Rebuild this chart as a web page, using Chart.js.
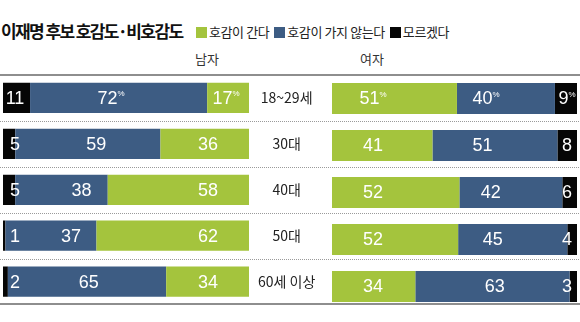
<!DOCTYPE html>
<html>
<head>
<meta charset="utf-8">
<script src="https://cdn.jsdelivr.net/npm/chart.js@4/dist/chart.umd.min.js"></script>
<style>
  html,body{margin:0;padding:0;background:#fff;}
  #wrap{position:relative;width:580px;height:322px;overflow:hidden;font-family:"Noto Sans CJK KR","Noto Sans",sans-serif;}
  #title{position:absolute;left:1px;top:18px;font-size:17px;font-weight:bold;color:#111;letter-spacing:-1.6px;white-space:nowrap;line-height:26px;}
  #legend{position:absolute;left:196px;top:22px;font-size:13px;color:#222;white-space:nowrap;line-height:20px;display:flex;align-items:center;letter-spacing:-0.4px;}
  #legend .sw{display:inline-block;width:11px;height:11px;margin-right:2px;}
  #legend .it{display:flex;align-items:center;margin-right:5px;}
  .panel{position:absolute;top:50px;font-size:13px;color:#333;line-height:18px;transform:translateX(-50%);white-space:nowrap;}
  canvas{position:absolute;top:0;left:0;}
</style>
</head>
<body>
<div id="wrap">
  <div id="title">이재명 후보 호감도·비호감도</div>
  <div id="legend"></div>
  <div class="panel" id="pm" style="left:207px">남자</div>
  <div class="panel" id="pf" style="left:372px">여자</div>
  <canvas id="left" width="580" height="322" style="width:580px;height:322px"></canvas>
  <canvas id="right" width="580" height="322" style="width:580px;height:322px"></canvas>
</div>
<script>
// ---- data ----
const categories = ['18~29세', '30대', '40대', '50대', '60세 이상'];
const seriesNames = ['호감이 간다', '호감이 가지 않는다', '모르겠다'];
const maleLike = [17, 36, 58, 62, 34];
const maleDislike = [72, 59, 38, 37, 65];
const maleUnknown = [11, 5, 5, 1, 2];
const femaleLike = [51, 41, 52, 52, 34];
const femaleDislike = [40, 51, 42, 45, 63];
const femaleUnknown = [9, 8, 6, 4, 3];

const seriesColors = ['#a4c43d', '#3d5c83', '#060606'];

// legend (HTML text)
const lg = document.getElementById('legend');
seriesNames.forEach((n, i) => {
  const it = document.createElement('span');
  it.className = 'it';
  it.innerHTML = '<span class="sw" style="background:' + seriesColors[i] + '"></span>' + n;
  lg.appendChild(it);
});

function shares(arrs) {
  const totals = categories.map((_, i) => arrs.reduce((s, a) => s + a[i], 0));
  return arrs.map(a => a.map((v, i) => v / totals[i] * 100));
}

function makeDatasets(arrs) {
  const sh = shares(arrs);
  return arrs.map((a, k) => ({
    label: seriesNames[k],
    data: sh[k],
    raw: a,
    backgroundColor: seriesColors[k],
    borderWidth: 0,
    barPercentage: 0.66,
    categoryPercentage: 1.0,
    stack: 's'
  }));
}

const framePlugin = {
  id: 'frame',
  beforeDatasetsDraw(chart) {
    const ctx = chart.ctx, ca = chart.chartArea, ys = chart.scales.y;
    const W = chart.width;
    ctx.save();
    ctx.strokeStyle = '#9a9a9a';
    ctx.lineWidth = 1;
    ctx.setLineDash([1, 1]);
    for (let i = 0; i < categories.length - 1; i++) {
      const y = Math.round((ys.getPixelForValue(i) + ys.getPixelForValue(i + 1)) / 2) + 0.5;
      ctx.beginPath(); ctx.moveTo(0, y); ctx.lineTo(W, y); ctx.stroke();
    }
    ctx.setLineDash([]);
    ctx.strokeStyle = '#8e8e8e';
    ctx.lineWidth = 2;
    ctx.beginPath(); ctx.moveTo(0, ca.top); ctx.lineTo(W, ca.top); ctx.stroke();
    ctx.beginPath(); ctx.moveTo(0, ca.bottom - 0.5); ctx.lineTo(W, ca.bottom - 0.5); ctx.stroke();
    ctx.restore();
  }
};

// label anchoring: like-segment from its start, dislike from its end, unknown near outer edge
function labelPlugin(side) {
  const dir = side === 'left' ? -1 : 1; // direction of growth in pixels
  return {
    id: 'vals',
    afterDatasetsDraw(chart) {
      const ctx = chart.ctx;
      ctx.save();
      ctx.fillStyle = '#ffffff';
      ctx.textBaseline = 'middle';
      chart.data.datasets.forEach((ds, k) => {
        const meta = chart.getDatasetMeta(k);
        meta.data.forEach((el, i) => {
          const v = ds.raw[i];
          const w = Math.abs(el.x - el.base);
          let x;
          if (k === 0) {
            x = el.base + dir * Math.min(41, w / 2 + 2);
          } else if (k === 1) {
            x = el.x - dir * Math.min(side === 'left' ? 81 : 75, w / 2 + 20);
          } else {
            x = side === 'left' ? el.x + 12 : el.x - 10;
          }
          const txt = String(v);
          const pct = i === 0 && !(side === 'left' && k === 2);
          ctx.font = '18px "Liberation Sans", Arial, sans-serif';
          const tw = ctx.measureText(txt).width;
          let pw = 0;
          if (pct) {
            ctx.font = '8px "Liberation Sans", Arial, sans-serif';
            pw = ctx.measureText('%').width;
          }
          const start = x - (tw + pw) / 2;
          ctx.font = '18px "Liberation Sans", Arial, sans-serif';
          ctx.textAlign = 'left';
          ctx.fillText(txt, start, el.y + 1);
          if (pct) {
            ctx.font = '8px "Liberation Sans", Arial, sans-serif';
            ctx.fillText('%', start + tw, el.y - 4);
          }
        });
      });
      ctx.restore();
    }
  };
}

const common = {
  indexAxis: 'y',
  responsive: false,
  animation: false,
  events: []
};

new Chart(document.getElementById('left'), {
  type: 'bar',
  data: { labels: categories, datasets: makeDatasets([maleLike, maleDislike, maleUnknown]) },
  options: Object.assign({}, common, {
    plugins: { legend: { display: false }, tooltip: { enabled: false } },
    layout: { padding: { left: 3, right: 248, top: 75, bottom: 12 } },
    scales: {
      x: { stacked: true, reverse: true, min: 0, max: 100, display: false },
      y: {
        stacked: true, position: 'right',
        grid: { display: false, drawTicks: false },
        border: { display: false },
        ticks: { crossAlign: 'center', padding: 9, autoSkip: false, color: '#222',
                 font: { size: 14, family: '"Noto Sans CJK KR", "Noto Sans", sans-serif' } },
        afterFit(s) { s.width = 83; }
      }
    }
  }),
  plugins: [framePlugin, labelPlugin('left')]
});

new Chart(document.getElementById('right'), {
  type: 'bar',
  data: { labels: categories, datasets: makeDatasets([femaleLike, femaleDislike, femaleUnknown]) },
  options: Object.assign({}, common, {
    plugins: { legend: { display: false }, tooltip: { enabled: false } },
    layout: { padding: { left: 332, right: 3, top: 75, bottom: 12 } },
    scales: {
      x: { stacked: true, min: 0, max: 100, display: false },
      y: { stacked: true, display: false }
    }
  }),
  plugins: [labelPlugin('right')]
});
</script>
</body>
</html>
